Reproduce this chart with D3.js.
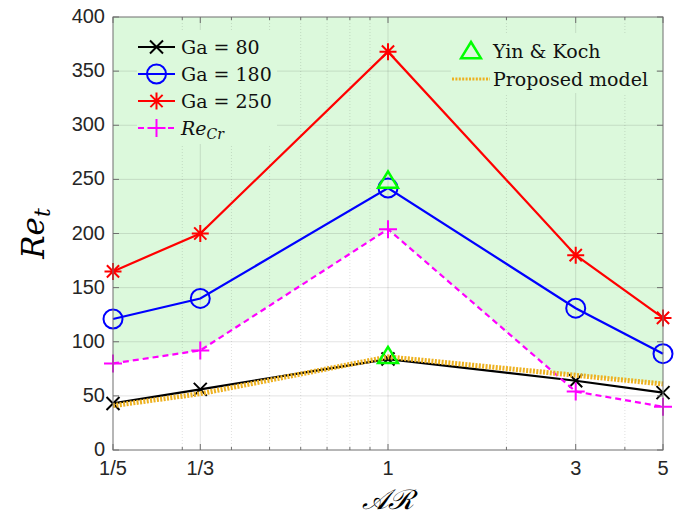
<!DOCTYPE html>
<html>
<head>
<meta charset="utf-8">
<script src="https://cdn.jsdelivr.net/npm/d3@7"></script>
<style>
  body { margin: 0; background: #fff; }
  svg { display: block; }
</style>
</head>
<body>
<script>
// chart size
const w = 684;
const h = 516;
const margin = { top: 17, right: 21, bottom: 66, left: 113 };

// data
const ar = [1 / 5, 1 / 3, 1, 3, 5];
const arLabels = ["1/5", "1/3", "1", "3", "5"];
const ga80 = [43, 56, 84, 64, 53];
const ga180 = [121, 140, 242, 131, 89];
const ga250 = [165, 200, 368, 180, 122];
const reCr = [80, 92, 204, 54, 40];
const model = [41, 52, 86, 69, 61];
const yinKochAr = [1, 1];
const yinKochRe = [87, 249];
const yTicks = [0, 50, 100, 150, 200, 250, 300, 350, 400];
const minorAr = [0.3, 0.4, 0.5, 0.6, 0.7, 0.8, 0.9, 2, 4];

const green = "#dcf9dc";
const axisCol = "#6e6e6e";
const serif = "'DejaVu Serif', serif";

const svg = d3.select("body").append("svg").attr("width", w).attr("height", h);

const x = d3.scaleLog().domain([0.2, 5]).range([margin.left, w - margin.right]);
const y = d3.scaleLinear().domain([0, 400]).range([h - margin.bottom, margin.top]);

const pts = (ys) => ar.map((a, i) => [a, ys[i]]);
const line = d3.line().x(d => x(d[0])).y(d => y(d[1]));

// shading: above both ReCr and the model curve
const areaTop = d3.area().x(d => x(d[0])).y0(d => y(d[1])).y1(y(400));
const defs = svg.append("defs");
defs.append("clipPath").attr("id", "aboveModel")
  .append("path").attr("d", areaTop(pts(model)));
svg.append("path")
  .attr("d", areaTop(pts(reCr)))
  .attr("fill", green)
  .attr("clip-path", "url(#aboveModel)");

// grid
const grid = svg.append("g");
grid.selectAll(".hg").data(yTicks.slice(1, -1)).enter().append("line")
  .attr("x1", margin.left).attr("x2", w - margin.right)
  .attr("y1", d => y(d)).attr("y2", d => y(d))
  .attr("stroke", "#262626").attr("stroke-opacity", 0.13).attr("stroke-width", 1);
grid.selectAll(".vg").data(ar.slice(1, -1)).enter().append("line")
  .attr("x1", d => x(d)).attr("x2", d => x(d))
  .attr("y1", y(0)).attr("y2", y(400))
  .attr("stroke", "#262626").attr("stroke-opacity", 0.13).attr("stroke-width", 1);
grid.selectAll(".mg").data(minorAr).enter().append("line")
  .attr("x1", d => x(d)).attr("x2", d => x(d))
  .attr("y1", y(0)).attr("y2", y(400))
  .attr("stroke", "#262626").attr("stroke-opacity", 0.18).attr("stroke-width", 0.8)
  .attr("stroke-dasharray", "1,2");

// legend backgrounds hide the grid
svg.append("rect").attr("x", 137).attr("y", 30).attr("width", 140).attr("height", 114).attr("fill", green);
svg.append("rect").attr("x", 451).attr("y", 33).attr("width", 205).attr("height", 60).attr("fill", green);

// marker shapes
function markerPath(type, s) {
  if (type === "x") return `M${-s},${-s}L${s},${s}M${-s},${s}L${s},${-s}`;
  if (type === "plus") return `M${-s},0L${s},0M0,${-s}L0,${s}`;
  if (type === "star") {
    const d = s * 0.72;
    return `M${-s},0L${s},0M0,${-s}L0,${s}M${-d},${-d}L${d},${d}M${-d},${d}L${d},${-d}`;
  }
  if (type === "tri") return `M0,${-s}L${s * 1.1},${s * 0.8}L${-s * 1.1},${s * 0.8}Z`;
  return "";
}

function drawMarkers(data, type, size, color, sw) {
  const g = svg.append("g");
  data.forEach(d => {
    if (type === "circle") {
      g.append("circle").attr("cx", x(d[0])).attr("cy", y(d[1])).attr("r", size)
        .attr("fill", "none").attr("stroke", color).attr("stroke-width", sw);
    } else {
      g.append("path").attr("transform", `translate(${x(d[0])},${y(d[1])})`)
        .attr("d", markerPath(type, size))
        .attr("fill", "none").attr("stroke", color).attr("stroke-width", sw);
    }
  });
}

// series
const series = [
  { ys: ga80, color: "#000000", marker: "x", size: 6.5, dash: null },
  { ys: ga180, color: "#0000ff", marker: "circle", size: 9.5, dash: null },
  { ys: ga250, color: "#ff0000", marker: "star", size: 8.5, dash: null },
  { ys: reCr, color: "#ff00ff", marker: "plus", size: 9, dash: "6,4" }
];
series.forEach(s => {
  svg.append("path").attr("d", line(pts(s.ys)))
    .attr("fill", "none").attr("stroke", s.color).attr("stroke-width", 2.2)
    .attr("stroke-dasharray", s.dash);
  drawMarkers(pts(s.ys), s.marker, s.size, s.color, 2);
});

// proposed model
svg.append("path").attr("d", line(pts(model)))
  .attr("fill", "none").attr("stroke", "#edb120").attr("stroke-width", 5)
  .attr("stroke-dasharray", "2,1.4");

// Yin & Koch
drawMarkers(yinKochAr.map((a, i) => [a, yinKochRe[i]]), "tri", 9, "#00ff00", 2.5);

// axes box
const ax = svg.append("g").attr("font-family", "'Liberation Sans', Arial, sans-serif")
  .attr("font-size", 20).attr("fill", "#262626");
ax.append("rect").attr("x", margin.left).attr("y", margin.top)
  .attr("width", w - margin.left - margin.right).attr("height", h - margin.top - margin.bottom)
  .attr("fill", "none").attr("stroke", axisCol).attr("stroke-width", 1);

// y ticks (both sides)
yTicks.forEach(t => {
  ax.append("line").attr("x1", margin.left).attr("x2", margin.left + 6)
    .attr("y1", y(t)).attr("y2", y(t)).attr("stroke", axisCol);
  ax.append("line").attr("x1", w - margin.right).attr("x2", w - margin.right - 6)
    .attr("y1", y(t)).attr("y2", y(t)).attr("stroke", axisCol);
  ax.append("text").attr("x", margin.left - 8).attr("y", y(t) + 6)
    .attr("text-anchor", "end").text(t);
});

// x ticks (both sides), major and minor
ar.forEach((a, i) => {
  ax.append("line").attr("x1", x(a)).attr("x2", x(a))
    .attr("y1", y(0)).attr("y2", y(0) - 6).attr("stroke", axisCol);
  ax.append("line").attr("x1", x(a)).attr("x2", x(a))
    .attr("y1", y(400)).attr("y2", y(400) + 6).attr("stroke", axisCol);
  ax.append("text").attr("x", x(a)).attr("y", y(0) + 25)
    .attr("text-anchor", "middle").text(arLabels[i]);
});
minorAr.forEach(a => {
  ax.append("line").attr("x1", x(a)).attr("x2", x(a))
    .attr("y1", y(0)).attr("y2", y(0) - 3).attr("stroke", axisCol);
  ax.append("line").attr("x1", x(a)).attr("x2", x(a))
    .attr("y1", y(400)).attr("y2", y(400) + 3).attr("stroke", axisCol);
});

// axis titles
const yl = svg.append("text")
  .attr("transform", `translate(44,${(margin.top + h - margin.bottom) / 2}) rotate(-90)`)
  .attr("text-anchor", "middle")
  .style("font-family", serif)
  .attr("font-style", "italic").attr("font-size", 31).attr("fill", "#000");
yl.append("tspan").text("Re");
yl.append("tspan").attr("font-size", 22).attr("dy", 6).text("t");

svg.append("text").attr("x", x(1)).attr("y", 509)
  .attr("text-anchor", "middle")
  .attr("font-family", "'DejaVu Serif', 'Liberation Serif', serif")
  .attr("font-style", "italic").attr("font-size", 28).attr("fill", "#000")
  .text("𝒜ℛ");

// legend 1
const leg = svg.append("g").style("font-family", serif)
  .attr("font-size", 19).attr("fill", "#111");
const legItems = [
  { label: "Ga = 80", s: series[0] },
  { label: "Ga = 180", s: series[1] },
  { label: "Ga = 250", s: series[2] },
  { label: null, s: series[3] }
];
legItems.forEach((it, i) => {
  const cy = 47 + i * 27;
  leg.append("line").attr("x1", 138).attr("x2", 175).attr("y1", cy).attr("y2", cy)
    .attr("stroke", it.s.color).attr("stroke-width", 2.2).attr("stroke-dasharray", it.s.dash);
  if (it.s.marker === "circle") {
    leg.append("circle").attr("cx", 156.5).attr("cy", cy).attr("r", it.s.size)
      .attr("fill", "none").attr("stroke", it.s.color).attr("stroke-width", 2);
  } else {
    leg.append("path").attr("transform", `translate(156.5,${cy})`)
      .attr("d", markerPath(it.s.marker, it.s.size))
      .attr("fill", "none").attr("stroke", it.s.color).attr("stroke-width", 2);
  }
  const t = leg.append("text").attr("x", 181).attr("y", cy + 7);
  if (it.label) {
    t.text(it.label);
  } else {
    t.append("tspan").attr("font-style", "italic").text("Re");
    t.append("tspan").attr("font-style", "italic").attr("font-size", 14).attr("dy", 4).text("Cr");
  }
});

// legend 2
leg.append("path").attr("transform", "translate(471,51)")
  .attr("d", markerPath("tri", 9))
  .attr("fill", "none").attr("stroke", "#00ff00").attr("stroke-width", 2.5);
leg.append("text").attr("x", 493).attr("y", 58).text("Yin & Koch");
leg.append("line").attr("x1", 452).attr("x2", 490).attr("y1", 79).attr("y2", 79)
  .attr("stroke", "#edb120").attr("stroke-width", 3).attr("stroke-dasharray", "2,1.4");
leg.append("text").attr("x", 493).attr("y", 86).text("Proposed model");
</script>
</body>
</html>
